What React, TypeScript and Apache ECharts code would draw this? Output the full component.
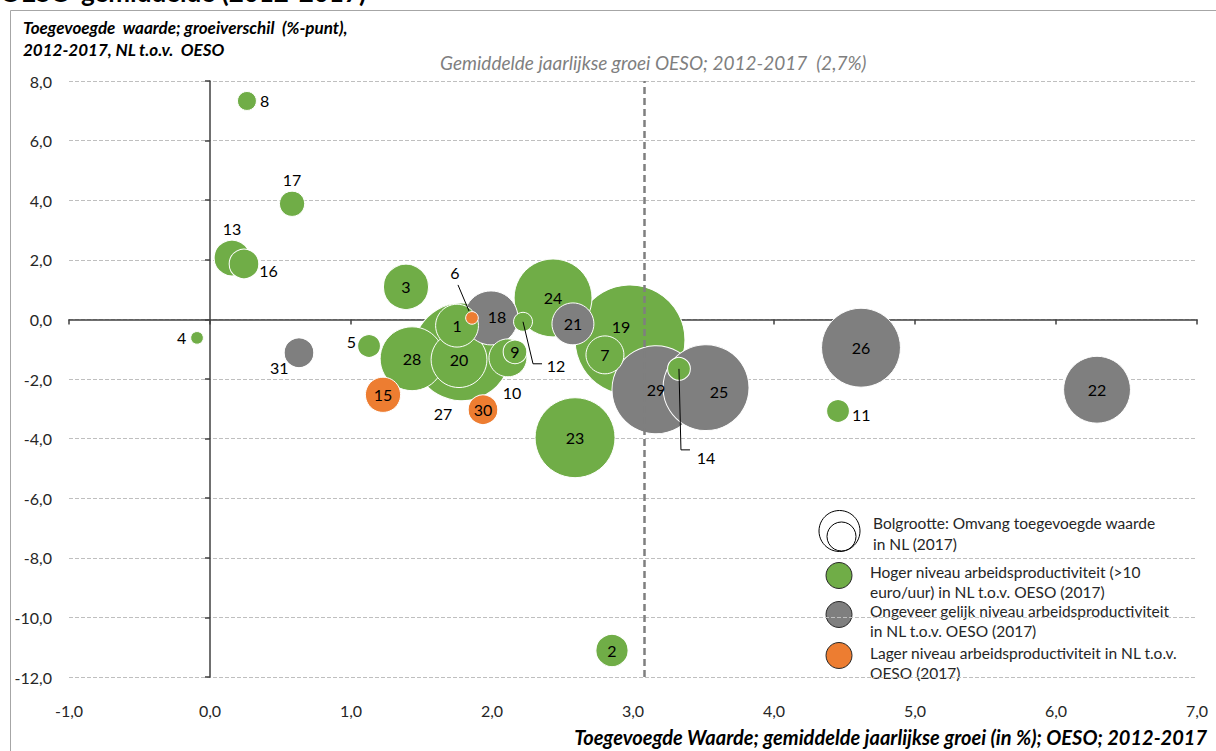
import React, { useEffect, useRef } from 'react';
import * as echarts from 'echarts';

// Sector numbers
const sectors = ['1','2','3','4','5','6','7','8','9','10','11','12','13','14','15','16','17','18','19','20','21','22','23','24','25','26','27','28','29','30','31'];
// Toegevoegde waarde, gemiddelde jaarlijkse groei OESO 2012-2017 (%)
const groeiOeso = [1.752,2.851,1.390,-0.092,1.128,1.858,2.801,0.262,2.163,2.113,4.454,2.220,0.156,3.326,1.227,0.241,0.582,1.993,2.979,1.766,2.574,6.291,2.589,2.433,3.518,4.617,1.787,1.433,3.163,1.936,0.631];
// Groeiverschil NL t.o.v. OESO (%-punt)
const groeiverschil = [-0.21,-11.11,1.09,-0.62,-0.89,0.05,-1.19,7.33,-1.09,-1.29,-3.07,-0.08,2.06,-1.66,-2.53,1.86,3.88,0.05,-0.69,-1.35,-0.15,-2.36,-3.97,0.72,-2.29,-0.95,-1.09,-1.32,-2.36,-3.03,-1.12];
// Omvang toegevoegde waarde in NL (2017), relatief (bolgrootte)
const omvang = [46,26,51,4,13,4,36,9,14,36,13,9,32,13,31,22,16,73,302,78,44,112,160,152,185,156,240,102,194,22,22];
// Niveau arbeidsproductiviteit: H = hoger, G = ongeveer gelijk, L = lager
const niveau = ['H','H','H','H','H','L','H','H','H','H','H','H','H','H','L','H','H','G','H','H','G','G','H','H','G','G','H','H','G','L','G'];

const OESO_LINE = 3.08;
const OESO_LABEL = 'Gemiddelde jaarlijkse groei OESO; 2012-2017  (2,7%)';

const COLORS: Record<string, string> = { H: '#70AD47', G: '#7F7F7F', L: '#ED7D31' };

const legendItems = [
  { key: 'H', lines: ['Hoger niveau arbeidsproductiviteit (>10', 'euro/uur) in NL t.o.v. OESO (2017)'] },
  { key: 'G', lines: ['Ongeveer gelijk niveau arbeidsproductiviteit', 'in NL t.o.v. OESO (2017)'] },
  { key: 'L', lines: ['Lager niveau arbeidsproductiviteit in NL t.o.v.', 'OESO (2017)'] },
];

const labelPlacement: Record<string, any> = {
  '4': { position: 'left', distance: 4 },
  '5': { position: 'left', distance: 1, offset: [0, -4] },
  '8': { position: 'right', distance: 3 },
  '11': { position: 'right', distance: 2, offset: [0, 4] },
  '13': { position: 'top', distance: 3 },
  '16': { position: 'right', distance: 0, offset: [0, 7] },
  '17': { position: 'top', distance: 3 },
  '31': { position: 'left', distance: 0, offset: [5, 15] },
  '6': { position: 'inside', offset: [-17, -45] },
  '12': { position: 'inside', offset: [33, 44] },
  '14': { position: 'inside', offset: [27, 89] },
  '10': { position: 'inside', offset: [4, 35] },
  '27': { position: 'inside', offset: [-19, 62] },
  '19': { position: 'inside', offset: [-9, -13] },
  '25': { position: 'inside', offset: [13, 4] },
  '18': { position: 'inside', offset: [6, -1] },
};

const leaders = [
  { id: '6', pts: [[-3, -7], [-14, -33]] },
  { id: '12', pts: [[0, 0], [10, 42], [19, 42]] },
  { id: '14', pts: [[0, 0], [2, 81], [11, 81]] },
];

const FONT = 'Lato, "Noto Sans", sans-serif';
const fmt = (v: number) => v.toFixed(1).replace('.', ',');

export default function App() {
  const ref = useRef<HTMLDivElement>(null);
  useEffect(() => {
    if (!ref.current) return;
    const chart = echarts.init(ref.current, null, { renderer: 'svg' });

    const items = sectors.map((s, i) => ({
      name: s,
      value: [groeiOeso[i], groeiverschil[i], omvang[i]],
      itemStyle: { color: COLORS[niveau[i]] },
      label: { position: 'inside', ...(labelPlacement[s] || {}) },
    }));
    items.sort((a, b) => b.value[2] - a.value[2]);

    const leaderData = leaders.map((l, k) => {
      const i = sectors.indexOf(l.id);
      return [groeiOeso[i], groeiverschil[i], k];
    });

    const LF = `15.5px ${FONT}`;
    const legendGraphics: any[] = [];
    legendGraphics.push({ type: 'circle', shape: { cx: 839.5, cy: 531, r: 20.5 }, style: { fill: '#fff', stroke: '#000', lineWidth: 1 } });
    legendGraphics.push({ type: 'circle', shape: { cx: 841.5, cy: 536.5, r: 14.5 }, style: { fill: '#fff', stroke: '#000', lineWidth: 1 } });
    legendGraphics.push({ type: 'text', x: 873, y: 523, style: { text: 'Bolgrootte: Omvang toegevoegde waarde', font: LF, fill: '#262626', verticalAlign: 'middle' } });
    legendGraphics.push({ type: 'text', x: 873, y: 544, style: { text: 'in NL (2017)', font: LF, fill: '#262626', verticalAlign: 'middle' } });
    const rowY = [572, 611, 653];
    const circY = [575.5, 614.5, 655.5];
    legendItems.forEach((it, k) => {
      legendGraphics.push({ type: 'circle', shape: { cx: 839, cy: circY[k], r: 13 }, style: { fill: COLORS[it.key], stroke: '#262626', lineWidth: 1 } });
      it.lines.forEach((ln, j) => {
        legendGraphics.push({ type: 'text', x: 870, y: rowY[k] + j * 20, style: { text: ln, font: LF, fill: '#262626', verticalAlign: 'middle' } });
      });
    });

    chart.setOption({
      animation: false,
      backgroundColor: '#fff',
      textStyle: { fontFamily: FONT },
      grid: { left: 69, right: 19, top: 81, bottom: 74, containLabel: false, outerBoundsMode: 'none' },
      xAxis: [
        {
          type: 'value', min: -1, max: 7, interval: 1, position: 'bottom',
          axisLine: { show: false, onZero: false }, axisTick: { show: false }, splitLine: { show: false },
          axisLabel: { formatter: fmt, fontSize: 16, color: '#262626', margin: 25, fontFamily: FONT },
        },
        {
          type: 'value', min: -1, max: 7, interval: 1, position: 'bottom',
          axisLine: { show: true, onZero: true, onZeroAxisIndex: 0, lineStyle: { color: '#404040', width: 1.5 } },
          axisTick: { show: true, length: 5, lineStyle: { color: '#404040', width: 1.5 } },
          axisLabel: { show: false }, splitLine: { show: false },
        },
      ],
      yAxis: [
        {
          type: 'value', min: -12, max: 8, interval: 2, position: 'left',
          axisLine: { show: false, onZero: false }, axisTick: { show: false },
          splitLine: { show: true, lineStyle: { color: '#bfbfbf', type: [4, 2], width: 1 } },
          axisLabel: { formatter: fmt, fontSize: 16, color: '#262626', margin: 17, fontFamily: FONT },
        },
        {
          type: 'value', min: -12, max: 8, interval: 2, position: 'left',
          axisLine: { show: true, onZero: true, onZeroAxisIndex: 0, lineStyle: { color: '#404040', width: 1.5 } },
          axisTick: { show: true, length: 5, lineStyle: { color: '#404040', width: 1.5 } },
          axisLabel: { show: false }, splitLine: { show: false },
        },
      ],
      series: [
        {
          type: 'scatter',
          xAxisIndex: 0,
          yAxisIndex: 0,
          data: items,
          symbol: 'circle',
          symbolSize: (val: number[]) => Math.sqrt(val[2]) * 6.32,
          itemStyle: { borderColor: '#ffffff', borderWidth: 1, opacity: 1 },
          label: { show: true, formatter: '{b}', color: '#000', fontSize: 16, fontFamily: FONT },
          emphasis: { disabled: true },
          markLine: {
            silent: true,
            symbol: ['none', 'none'],
            lineStyle: { color: '#7f7f7f', type: [7, 4], width: 2.5 },
            label: {
              show: true, position: 'end', formatter: OESO_LABEL, color: '#7f7f7f',
              fontStyle: 'italic', fontSize: 19, fontFamily: FONT, distance: 9, padding: [0, 0, 0, 18],
            },
            data: [{ xAxis: OESO_LINE }],
          },
          z: 3,
        },
        {
          type: 'custom',
          coordinateSystem: 'cartesian2d',
          xAxisIndex: 0,
          yAxisIndex: 0,
          data: leaderData,
          encode: { x: 0, y: 1 },
          silent: true,
          z: 5,
          renderItem: (params: any, api: any) => {
            const c = api.coord([api.value(0), api.value(1)]);
            const l = leaders[api.value(2)];
            return {
              type: 'polyline',
              shape: { points: l.pts.map((p) => [c[0] + p[0], c[1] + p[1]]) },
              style: { stroke: '#000', lineWidth: 1, fill: null },
            };
          },
        },
      ],
      graphic: [
        { type: 'rect', silent: true, z: -10, shape: { x: 10.5, y: 10.5, width: 1400, height: 900 }, style: { fill: 'transparent', stroke: '#a6a6a6', lineWidth: 1 } },
        { type: 'text', x: 0, y: 5, style: { text: 'OESO-gemiddelde (2012-2017)', font: `bold 26px ${FONT}`, fill: '#000', verticalAlign: 'bottom' } },
        { type: 'text', x: 23, y: 27, style: { text: 'Toegevoegde  waarde; groeiverschil  (%-punt),', font: `italic bold 17px ${FONT}`, fill: '#000', verticalAlign: 'middle' } },
        { type: 'text', x: 23, y: 49, style: { text: '2012-2017, NL t.o.v.  OESO', font: `italic bold 17px ${FONT}`, fill: '#000', verticalAlign: 'middle' } },
        { type: 'text', x: 1207, y: 737, style: { text: 'Toegevoegde Waarde; gemiddelde jaarlijkse groei (in %); OESO; 2012-2017', font: `italic bold 20px ${FONT}`, fill: '#000', align: 'right', verticalAlign: 'middle' } },
        ...legendGraphics,
      ],
    });
    return () => chart.dispose();
  }, []);
  return <div ref={ref} style={{ position: 'fixed', left: 0, top: 0, width: 1216, height: 751 }} />;
}
